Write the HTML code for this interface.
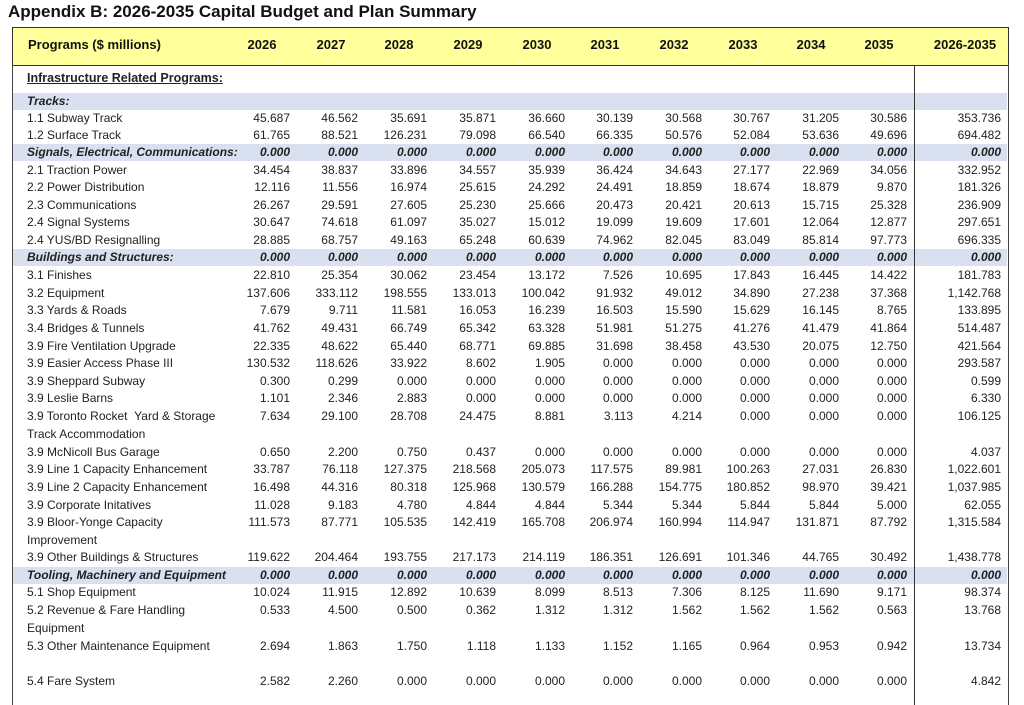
<!DOCTYPE html>
<html><head><meta charset="utf-8"><style>
body{margin:0;width:1024px;height:694px;background:#fff;position:relative;overflow:hidden;font-family:"Liberation Sans",Arial,sans-serif;color:#222}
.t{position:absolute;left:8px;top:2px;font-weight:bold;font-size:17px;color:#111}
.hd{position:absolute;left:12px;top:27px;width:995px;height:37px;background:#ffff9c;border:1px solid #333}
.box{position:absolute;left:12px;top:65px;width:995px;height:640px;border-left:1px solid #444;border-right:1px solid #444}
.vl{position:absolute;left:914px;top:65px;width:1px;height:640px;background:#333}
.b{position:absolute;left:13px;width:994px;height:17px;background:#d9e0f0}
.r{position:absolute;left:0;width:1024px;height:17px;line-height:17px;font-size:12px}
.r span{position:absolute;width:90px;text-align:right}
.r .l{left:27px;width:300px;text-align:left}
.i{font-style:italic;font-weight:bold}
.h{position:absolute;top:37px;font-weight:bold;font-size:13px;width:90px;text-align:center;color:#111}
.a{left:200px}.b2{left:268px}.c{left:337px}.d{left:406px}.e{left:475px}.f{left:543px}.g{left:612px}.hh{left:680px}.j{left:749px}.k{left:817px}.m{left:911px}
</style></head><body>
<div class="t">Appendix B: 2026-2035 Capital Budget and Plan Summary</div>
<div class="hd"></div>
<div class="box"></div>
<div class="b" style="top:93px"></div>
<div class="b" style="top:144px"></div>
<div class="b" style="top:249px"></div>
<div class="b" style="top:567px"></div>
<div class="vl"></div>
<div class="h" style="left:28px;width:200px;text-align:left">Programs ($ millions)</div>
<div class="h" style="left:217px">2026</div><div class="h" style="left:286px">2027</div><div class="h" style="left:354px">2028</div><div class="h" style="left:423px">2029</div><div class="h" style="left:492px">2030</div><div class="h" style="left:560px">2031</div><div class="h" style="left:629px">2032</div><div class="h" style="left:698px">2033</div><div class="h" style="left:766px">2034</div><div class="h" style="left:834px">2035</div><div class="h" style="left:920px">2026-2035</div>

<div class="r" style="top:70px;font-weight:bold;font-size:12.5px"><span class="l" style="text-decoration:underline">Infrastructure Related Programs:</span></div>
<div class="r i" style="top:93px"><span class="l">Tracks:</span></div>
<div class="r" style="top:110px"><span class="l">1.1 Subway Track</span><span class="a">45.687</span><span class="b2">46.562</span><span class="c">35.691</span><span class="d">35.871</span><span class="e">36.660</span><span class="f">30.139</span><span class="g">30.568</span><span class="hh">30.767</span><span class="j">31.205</span><span class="k">30.586</span><span class="m">353.736</span></div>
<div class="r" style="top:127px"><span class="l">1.2 Surface Track</span><span class="a">61.765</span><span class="b2">88.521</span><span class="c">126.231</span><span class="d">79.098</span><span class="e">66.540</span><span class="f">66.335</span><span class="g">50.576</span><span class="hh">52.084</span><span class="j">53.636</span><span class="k">49.696</span><span class="m">694.482</span></div>
<div class="r i" style="top:144px"><span class="l">Signals, Electrical, Communications:</span><span class="a">0.000</span><span class="b2">0.000</span><span class="c">0.000</span><span class="d">0.000</span><span class="e">0.000</span><span class="f">0.000</span><span class="g">0.000</span><span class="hh">0.000</span><span class="j">0.000</span><span class="k">0.000</span><span class="m">0.000</span></div>
<div class="r" style="top:162px"><span class="l">2.1 Traction Power</span><span class="a">34.454</span><span class="b2">38.837</span><span class="c">33.896</span><span class="d">34.557</span><span class="e">35.939</span><span class="f">36.424</span><span class="g">34.643</span><span class="hh">27.177</span><span class="j">22.969</span><span class="k">34.056</span><span class="m">332.952</span></div>
<div class="r" style="top:179px"><span class="l">2.2 Power Distribution</span><span class="a">12.116</span><span class="b2">11.556</span><span class="c">16.974</span><span class="d">25.615</span><span class="e">24.292</span><span class="f">24.491</span><span class="g">18.859</span><span class="hh">18.674</span><span class="j">18.879</span><span class="k">9.870</span><span class="m">181.326</span></div>
<div class="r" style="top:197px"><span class="l">2.3 Communications</span><span class="a">26.267</span><span class="b2">29.591</span><span class="c">27.605</span><span class="d">25.230</span><span class="e">25.666</span><span class="f">20.473</span><span class="g">20.421</span><span class="hh">20.613</span><span class="j">15.715</span><span class="k">25.328</span><span class="m">236.909</span></div>
<div class="r" style="top:214px"><span class="l">2.4 Signal Systems</span><span class="a">30.647</span><span class="b2">74.618</span><span class="c">61.097</span><span class="d">35.027</span><span class="e">15.012</span><span class="f">19.099</span><span class="g">19.609</span><span class="hh">17.601</span><span class="j">12.064</span><span class="k">12.877</span><span class="m">297.651</span></div>
<div class="r" style="top:232px"><span class="l">2.4 YUS/BD Resignalling</span><span class="a">28.885</span><span class="b2">68.757</span><span class="c">49.163</span><span class="d">65.248</span><span class="e">60.639</span><span class="f">74.962</span><span class="g">82.045</span><span class="hh">83.049</span><span class="j">85.814</span><span class="k">97.773</span><span class="m">696.335</span></div>
<div class="r i" style="top:249px"><span class="l">Buildings and Structures:</span><span class="a">0.000</span><span class="b2">0.000</span><span class="c">0.000</span><span class="d">0.000</span><span class="e">0.000</span><span class="f">0.000</span><span class="g">0.000</span><span class="hh">0.000</span><span class="j">0.000</span><span class="k">0.000</span><span class="m">0.000</span></div>
<div class="r" style="top:267px"><span class="l">3.1 Finishes</span><span class="a">22.810</span><span class="b2">25.354</span><span class="c">30.062</span><span class="d">23.454</span><span class="e">13.172</span><span class="f">7.526</span><span class="g">10.695</span><span class="hh">17.843</span><span class="j">16.445</span><span class="k">14.422</span><span class="m">181.783</span></div>
<div class="r" style="top:285px"><span class="l">3.2 Equipment</span><span class="a">137.606</span><span class="b2">333.112</span><span class="c">198.555</span><span class="d">133.013</span><span class="e">100.042</span><span class="f">91.932</span><span class="g">49.012</span><span class="hh">34.890</span><span class="j">27.238</span><span class="k">37.368</span><span class="m">1,142.768</span></div>
<div class="r" style="top:302px"><span class="l">3.3 Yards &amp; Roads</span><span class="a">7.679</span><span class="b2">9.711</span><span class="c">11.581</span><span class="d">16.053</span><span class="e">16.239</span><span class="f">16.503</span><span class="g">15.590</span><span class="hh">15.629</span><span class="j">16.145</span><span class="k">8.765</span><span class="m">133.895</span></div>
<div class="r" style="top:320px"><span class="l">3.4 Bridges &amp; Tunnels</span><span class="a">41.762</span><span class="b2">49.431</span><span class="c">66.749</span><span class="d">65.342</span><span class="e">63.328</span><span class="f">51.981</span><span class="g">51.275</span><span class="hh">41.276</span><span class="j">41.479</span><span class="k">41.864</span><span class="m">514.487</span></div>
<div class="r" style="top:338px"><span class="l">3.9 Fire Ventilation Upgrade</span><span class="a">22.335</span><span class="b2">48.622</span><span class="c">65.440</span><span class="d">68.771</span><span class="e">69.885</span><span class="f">31.698</span><span class="g">38.458</span><span class="hh">43.530</span><span class="j">20.075</span><span class="k">12.750</span><span class="m">421.564</span></div>
<div class="r" style="top:355px"><span class="l">3.9 Easier Access Phase III</span><span class="a">130.532</span><span class="b2">118.626</span><span class="c">33.922</span><span class="d">8.602</span><span class="e">1.905</span><span class="f">0.000</span><span class="g">0.000</span><span class="hh">0.000</span><span class="j">0.000</span><span class="k">0.000</span><span class="m">293.587</span></div>
<div class="r" style="top:373px"><span class="l">3.9 Sheppard Subway</span><span class="a">0.300</span><span class="b2">0.299</span><span class="c">0.000</span><span class="d">0.000</span><span class="e">0.000</span><span class="f">0.000</span><span class="g">0.000</span><span class="hh">0.000</span><span class="j">0.000</span><span class="k">0.000</span><span class="m">0.599</span></div>
<div class="r" style="top:390px"><span class="l">3.9 Leslie Barns</span><span class="a">1.101</span><span class="b2">2.346</span><span class="c">2.883</span><span class="d">0.000</span><span class="e">0.000</span><span class="f">0.000</span><span class="g">0.000</span><span class="hh">0.000</span><span class="j">0.000</span><span class="k">0.000</span><span class="m">6.330</span></div>
<div class="r" style="top:408px"><span class="l">3.9 Toronto Rocket &nbsp;Yard &amp; Storage</span><span class="a">7.634</span><span class="b2">29.100</span><span class="c">28.708</span><span class="d">24.475</span><span class="e">8.881</span><span class="f">3.113</span><span class="g">4.214</span><span class="hh">0.000</span><span class="j">0.000</span><span class="k">0.000</span><span class="m">106.125</span></div>
<div class="r" style="top:426px"><span class="l">Track Accommodation</span></div>
<div class="r" style="top:444px"><span class="l">3.9 McNicoll Bus Garage</span><span class="a">0.650</span><span class="b2">2.200</span><span class="c">0.750</span><span class="d">0.437</span><span class="e">0.000</span><span class="f">0.000</span><span class="g">0.000</span><span class="hh">0.000</span><span class="j">0.000</span><span class="k">0.000</span><span class="m">4.037</span></div>
<div class="r" style="top:461px"><span class="l">3.9 Line 1 Capacity Enhancement</span><span class="a">33.787</span><span class="b2">76.118</span><span class="c">127.375</span><span class="d">218.568</span><span class="e">205.073</span><span class="f">117.575</span><span class="g">89.981</span><span class="hh">100.263</span><span class="j">27.031</span><span class="k">26.830</span><span class="m">1,022.601</span></div>
<div class="r" style="top:479px"><span class="l">3.9 Line 2 Capacity Enhancement</span><span class="a">16.498</span><span class="b2">44.316</span><span class="c">80.318</span><span class="d">125.968</span><span class="e">130.579</span><span class="f">166.288</span><span class="g">154.775</span><span class="hh">180.852</span><span class="j">98.970</span><span class="k">39.421</span><span class="m">1,037.985</span></div>
<div class="r" style="top:497px"><span class="l">3.9 Corporate Initatives</span><span class="a">11.028</span><span class="b2">9.183</span><span class="c">4.780</span><span class="d">4.844</span><span class="e">4.844</span><span class="f">5.344</span><span class="g">5.344</span><span class="hh">5.844</span><span class="j">5.844</span><span class="k">5.000</span><span class="m">62.055</span></div>
<div class="r" style="top:514px"><span class="l">3.9 Bloor-Yonge Capacity</span><span class="a">111.573</span><span class="b2">87.771</span><span class="c">105.535</span><span class="d">142.419</span><span class="e">165.708</span><span class="f">206.974</span><span class="g">160.994</span><span class="hh">114.947</span><span class="j">131.871</span><span class="k">87.792</span><span class="m">1,315.584</span></div>
<div class="r" style="top:532px"><span class="l">Improvement</span></div>
<div class="r" style="top:549px"><span class="l">3.9 Other Buildings &amp; Structures</span><span class="a">119.622</span><span class="b2">204.464</span><span class="c">193.755</span><span class="d">217.173</span><span class="e">214.119</span><span class="f">186.351</span><span class="g">126.691</span><span class="hh">101.346</span><span class="j">44.765</span><span class="k">30.492</span><span class="m">1,438.778</span></div>
<div class="r i" style="top:567px"><span class="l">Tooling, Machinery and Equipment</span><span class="a">0.000</span><span class="b2">0.000</span><span class="c">0.000</span><span class="d">0.000</span><span class="e">0.000</span><span class="f">0.000</span><span class="g">0.000</span><span class="hh">0.000</span><span class="j">0.000</span><span class="k">0.000</span><span class="m">0.000</span></div>
<div class="r" style="top:584px"><span class="l">5.1 Shop Equipment</span><span class="a">10.024</span><span class="b2">11.915</span><span class="c">12.892</span><span class="d">10.639</span><span class="e">8.099</span><span class="f">8.513</span><span class="g">7.306</span><span class="hh">8.125</span><span class="j">11.690</span><span class="k">9.171</span><span class="m">98.374</span></div>
<div class="r" style="top:602px"><span class="l">5.2 Revenue &amp; Fare Handling</span><span class="a">0.533</span><span class="b2">4.500</span><span class="c">0.500</span><span class="d">0.362</span><span class="e">1.312</span><span class="f">1.312</span><span class="g">1.562</span><span class="hh">1.562</span><span class="j">1.562</span><span class="k">0.563</span><span class="m">13.768</span></div>
<div class="r" style="top:620px"><span class="l">Equipment</span></div>
<div class="r" style="top:638px"><span class="l">5.3 Other Maintenance Equipment</span><span class="a">2.694</span><span class="b2">1.863</span><span class="c">1.750</span><span class="d">1.118</span><span class="e">1.133</span><span class="f">1.152</span><span class="g">1.165</span><span class="hh">0.964</span><span class="j">0.953</span><span class="k">0.942</span><span class="m">13.734</span></div>
<div class="r" style="top:673px"><span class="l">5.4 Fare System</span><span class="a">2.582</span><span class="b2">2.260</span><span class="c">0.000</span><span class="d">0.000</span><span class="e">0.000</span><span class="f">0.000</span><span class="g">0.000</span><span class="hh">0.000</span><span class="j">0.000</span><span class="k">0.000</span><span class="m">4.842</span></div>
</body></html>
